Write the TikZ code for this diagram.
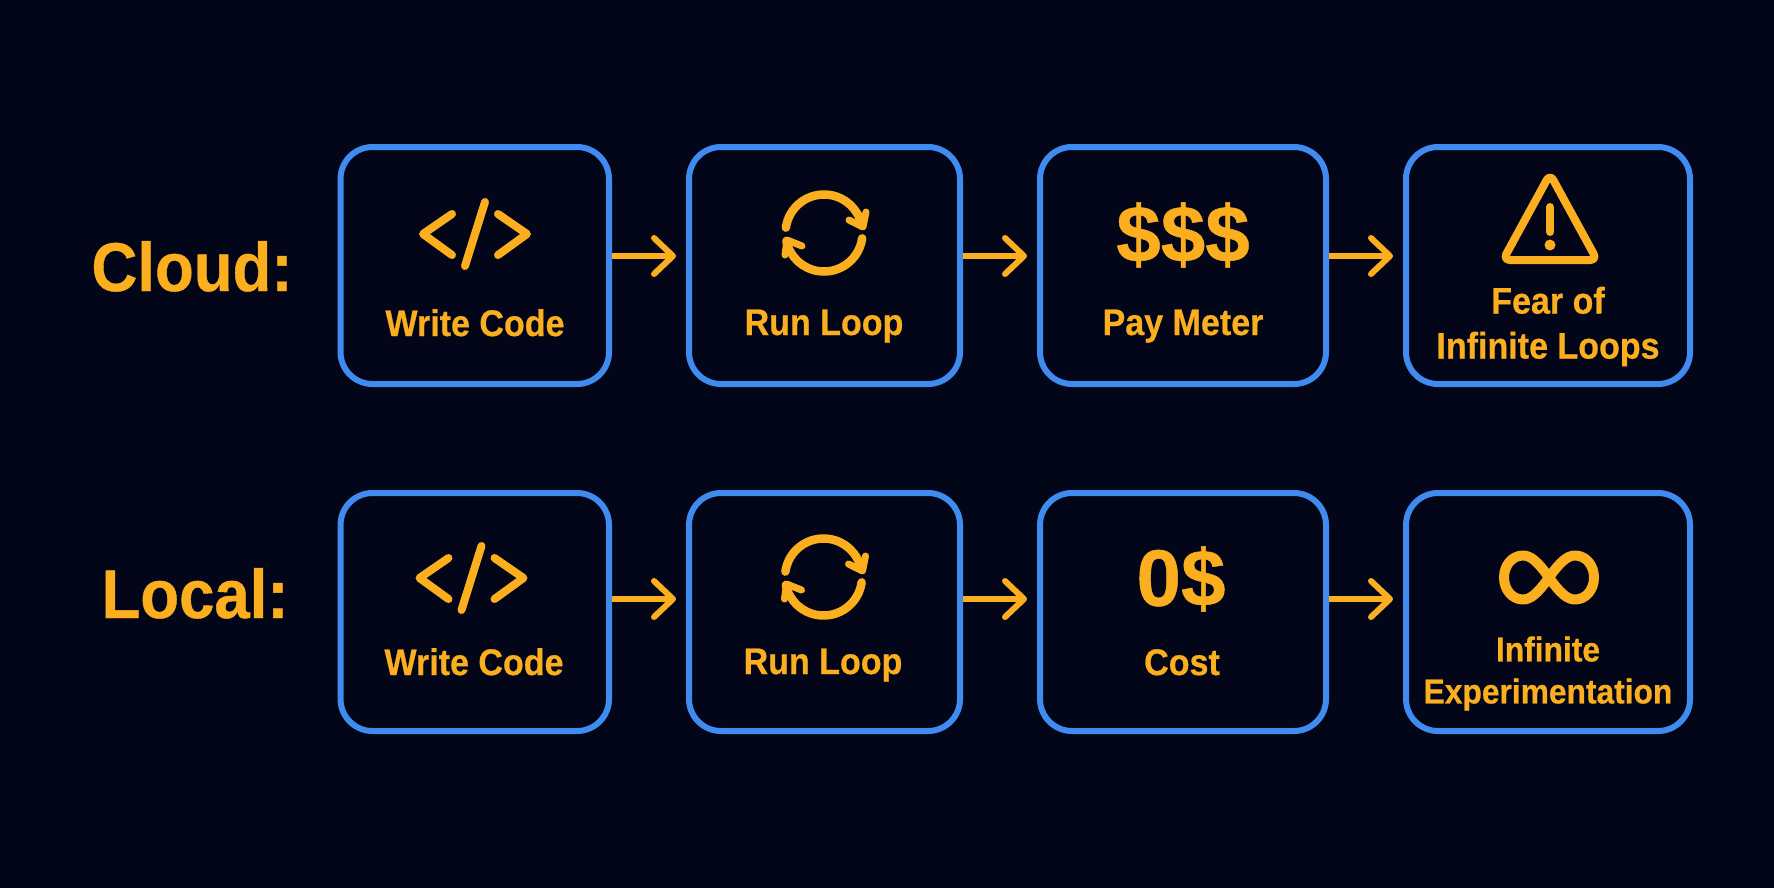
\documentclass[tikz,border=0pt]{standalone}
\usepackage{fontspec}
\usepackage{xcolor}
\usetikzlibrary{arrows.meta}
\setmainfont[FakeStretch=0.92,BoldFeatures={FakeBold=0.6}]{Liberation Sans}
\newfontfamily\moneyfont[FakeBold=0.6]{Liberation Sans Bold}

\definecolor{nightbg}{HTML}{020618}
\definecolor{boxblue}{HTML}{3F8BF0}
\definecolor{amber}{HTML}{FBAE1E}

\tikzset{
  stagebox/.style={draw=boxblue, line width=6pt, rounded corners=32pt, minimum height=#1, inner sep=0pt},
  stagebox/.default=237pt,
  caption/.style={text=amber, font=\fontsize{37}{45}\selectfont\bfseries, align=center, inner sep=0pt},
  rowname/.style={text=amber, font=\fontsize{69}{80}\selectfont\bfseries, inner sep=0pt, anchor=base},
  money/.style={text=amber, font=\fontsize{80}{90}\selectfont\moneyfont, inner sep=0pt},
  icon/.style={draw=amber, line width=8pt, line cap=round, line join=round},
  flow/.style={draw=amber, line width=6pt, -{Straight Barb[length=19pt,width=36pt,round]}, shorten >=10pt}
}

\newcommand{\codeicon}[2]{
  \draw[icon, shift={(#1,#2)}] (-23,20) -- (-52,0) -- (-23,-21);
  \draw[icon, shift={(#1,#2)}] (10,32) -- (-10,-32);
  \draw[icon, shift={(#1,#2)}] (23,20) -- (52,0) -- (23,-21);
}
\newcommand{\loopicon}[2]{
  \draw[icon, line width=8.5pt, shift={(#1,#2)}] (172:38.5) arc[start angle=172, end angle=12, radius=38.5];
  \draw[icon, line width=8.5pt, shift={(#1,#2)}] (-8:38.5) arc[start angle=-8, end angle=-168, radius=38.5];
  \draw[icon, line width=7pt, shift={(#1,#2)}] (25,13) -- (39,6) -- (42,21);
  \draw[icon, line width=7pt, shift={(#1,#2)}] (-22,-13) -- (-37,-7) -- (-39,-22);
}

\begin{document}
\begin{tikzpicture}[x=1pt,y=1pt]

  \useasboundingbox (0,0) rectangle (1774,-887);
  \fill[nightbg] (-5,5) rectangle (1779,-892);

  % the two rows of boxes
  \foreach \n/\xc/\bw in {1/474.75/268.5, 2/824.5/271, 3/1183/286, 4/1548/284} {
    \node[stagebox, minimum width=\bw pt] (c\n) at (\xc,-265.5) {};
    \node[stagebox=238pt, minimum width=\bw pt] (l\n) at (\xc,-612) {};
  }

  \node[rowname] (cloud) at (192,-291) {Cloud:};
  \node[rowname] (local) at (195,-618) {Local:};

  % arrows leave the boxes above their middle
  \foreach \a/\b in {c1/c2, c2/c3, c3/c4}
    \draw[flow] ([yshift=9.5pt]\a.east) -- ([yshift=9.5pt]\b.west);
  \foreach \a/\b in {l1/l2, l2/l3, l3/l4}
    \draw[flow] ([yshift=13pt]\a.east) -- ([yshift=13pt]\b.west);

  % cloud row
  \codeicon{475}{-234}
  \node[caption, anchor=base] (cwrite) at (475,-336) {Write Code};
  \loopicon{824}{-233}
  \node[caption, anchor=base] (crun) at (824,-335) {Run Loop};
  \node[money] (cdollars) at (1183,-235) {\$\$\$};
  \node[caption, anchor=base] (cpay) at (1183,-335) {Pay Meter};

  \draw[icon] (1550,-174) [rounded corners=7pt] -- (1597,-260) -- (1503,-260) -- cycle;
  \draw[icon, line width=8pt] (1550,-207) -- (1550,-232);
  \fill[amber] (1550,-245) circle[radius=5.5];
  \node[caption] (cfear) at (1548,-326.5) {Fear of\\Infinite Loops};

  % local row
  \codeicon{471.5}{-578}
  \node[caption, anchor=base] (lwrite) at (474,-675) {Write Code};
  \loopicon{823.5}{-577}
  \node[caption, anchor=base] (lrun) at (823,-674) {Run Loop};
  \node[money] (lzero) at (1181,-579) {0\$};
  \node[caption, anchor=base] (lcost) at (1182,-675) {Cost};

  \draw[icon, line width=10pt, shift={(1549,-577.5)}]
    (0,0) .. controls (12,17) and (19,22) .. (26,22)
    .. controls (37,22) and (45,12) .. (45,0)
    .. controls (45,-12) and (37,-22) .. (26,-22)
    .. controls (19,-22) and (12,-17) .. (0,0)
    .. controls (-12,17) and (-19,22) .. (-26,22)
    .. controls (-37,22) and (-45,12) .. (-45,0)
    .. controls (-45,-12) and (-37,-22) .. (-26,-22)
    .. controls (-19,-22) and (-12,-17) .. (0,0) -- cycle;
  \node[caption, font=\fontsize{34.5}{42}\selectfont\bfseries] (linf) at (1548,-673.5) {Infinite\\Experimentation};

\end{tikzpicture}
\end{document}
